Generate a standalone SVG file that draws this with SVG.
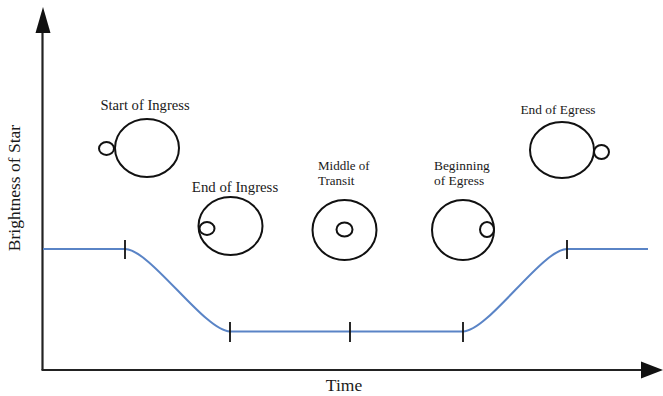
<svg xmlns="http://www.w3.org/2000/svg" width="663" height="396" viewBox="0 0 663 396">
<style>
.lbl{font-family:"Liberation Serif","Times New Roman",serif;font-size:13.4px;fill:#1a1a1a}
.axl{font-family:"Liberation Serif","Times New Roman",serif;font-size:17.5px;fill:#1a1a1a}
.star{fill:none;stroke:#111;stroke-width:2}
.planet{fill:#fff;stroke:#111;stroke-width:2}
.tick{stroke:#111;stroke-width:1.8}
.curve{fill:none;stroke:#5a84c6;stroke-width:2}
.axis{stroke:#222;stroke-width:2.2;fill:none}
</style>
<rect width="663" height="396" fill="#fff"/>
<g id="axes">
<line class="axis" x1="42.5" y1="370" x2="42.5" y2="30"/>
<polygon points="43,7 35.5,33 50.5,33" fill="#111"/>
<line class="axis" x1="41.5" y1="370" x2="643" y2="370"/>
<polygon points="663,370 641,361.5 641,378.5" fill="#111"/>
<text class="axl" transform="translate(20,188) rotate(-90)" text-anchor="middle">Brightness of Star</text>
<text class="axl" x="344" y="391" text-anchor="middle">Time</text>
</g>
<g id="connectors">
<path class="curve" d="M43,249 H125 C150,249 205,331.5 230,331.5 H463 C488,331.5 542,249 567,249 H648"/>
<line class="tick" x1="125" y1="240" x2="125" y2="259"/>
<line class="tick" x1="230" y1="322" x2="230" y2="342"/>
<line class="tick" x1="350" y1="322" x2="350" y2="342"/>
<line class="tick" x1="463" y1="322" x2="463" y2="342"/>
<line class="tick" x1="567" y1="240" x2="567" y2="259"/>
</g>
<g id="start-of-ingress">
<text class="lbl" x="145" y="110" text-anchor="middle" style="font-size:14.6px">Start of Ingress</text>
<ellipse class="star" cx="147" cy="148" rx="32" ry="29"/>
<ellipse class="planet" cx="106.5" cy="148.5" rx="7.5" ry="6.5"/>
</g>
<g id="end-of-ingress">
<text class="lbl" x="235" y="192" text-anchor="middle" style="font-size:14.8px">End of Ingress</text>
<ellipse class="star" cx="230.5" cy="226" rx="32" ry="29"/>
<ellipse class="planet" cx="207" cy="228.5" rx="7.5" ry="6.5" fill="none"/>
</g>
<g id="middle-of-transit">
<text class="lbl" x="318" y="170" style="font-size:13px">Middle of</text>
<text class="lbl" x="318" y="185" style="font-size:13px">Transit</text>
<ellipse class="star" cx="344.5" cy="230" rx="32" ry="30"/>
<ellipse class="planet" cx="344.5" cy="229.5" rx="8" ry="7"/>
</g>
<g id="beginning-of-egress">
<text class="lbl" x="434" y="170">Beginning</text>
<text class="lbl" x="434" y="185">of Egress</text>
<ellipse class="star" cx="463" cy="230" rx="31" ry="30"/>
<ellipse class="planet" cx="487" cy="229.5" rx="7" ry="7.5"/>
</g>
<g id="end-of-egress">
<text class="lbl" x="558" y="114" text-anchor="middle">End of Egress</text>
<ellipse class="star" cx="562" cy="150" rx="32" ry="28"/>
<ellipse class="planet" cx="601.5" cy="152" rx="7.5" ry="7"/>
</g>
</svg>
